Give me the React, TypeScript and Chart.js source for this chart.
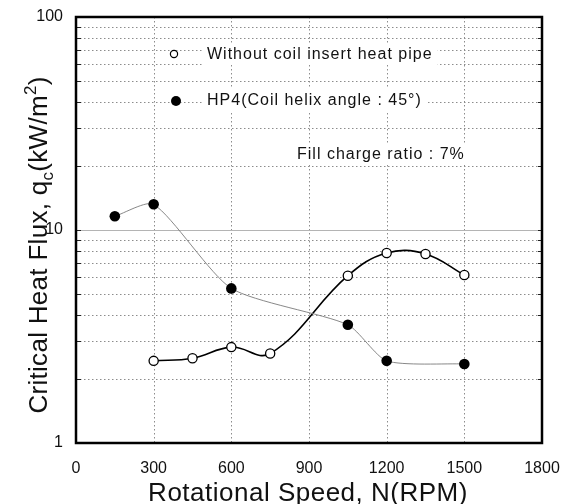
import React, { useEffect, useRef } from "react";
import { Chart, registerables } from "chart.js";

Chart.register(...registerables);

// ---- data ----
const openRpm = [300, 450, 600, 750, 1050, 1200, 1350, 1500];
const openFlux = [2.43, 2.5, 2.82, 2.63, 6.1, 7.8, 7.72, 6.15];
const filledRpm = [150, 300, 600, 1050, 1200, 1500];
const filledFlux = [11.6, 13.2, 5.32, 3.59, 2.43, 2.35];
const xTicks = [0, 300, 600, 900, 1200, 1500, 1800];
const yTicks = [1, 2, 3, 4, 5, 6, 7, 8, 9, 10, 20, 30, 40, 50, 60, 70, 80, 90, 100];
const yLabels = [1, 10, 100];
const seriesNames = ["Without coil insert heat pipe", "HP4(Coil helix angle : 45°)"];
const noteText = "Fill charge ratio : 7%";
const xTitle = "Rotational Speed, N(RPM)";

const FONT = "'Liberation Sans', Arial, Helvetica, sans-serif";

const decorPlugin = {
  id: "decor",
  beforeDatasetsDraw(chart: any) {
    const { ctx, chartArea: a, scales } = chart;
    const x = scales.x;
    const y = scales.y;
    const line = (x1: number, y1: number, x2: number, y2: number) => {
      ctx.beginPath();
      ctx.moveTo(x1, y1);
      ctx.lineTo(x2, y2);
      ctx.stroke();
    };
    ctx.save();
    ctx.lineWidth = 1;
    ctx.strokeStyle = "#8c8c8c";
    ctx.setLineDash([1.5, 2.5]);
    xTicks.forEach((v) => {
      if (v <= xTicks[0] || v >= xTicks[xTicks.length - 1]) return;
      const px = Math.round(x.getPixelForValue(v)) + 0.5;
      line(px, a.top, px, a.bottom);
    });
    yTicks.forEach((v) => {
      if (yLabels.includes(v)) return;
      const py = Math.round(y.getPixelForValue(v)) + 0.5;
      line(a.left, py, a.right, py);
    });
    ctx.setLineDash([]);
    // solid line at the middle decade
    ctx.strokeStyle = "#b4b4b4";
    ctx.lineWidth = 1.2;
    const p10 = Math.round(y.getPixelForValue(10)) + 0.5;
    line(a.left, p10, a.right, p10);
    // inward minor ticks
    ctx.strokeStyle = "#222";
    ctx.lineWidth = 1;
    yTicks.forEach((v) => {
      const py = Math.round(y.getPixelForValue(v)) + 0.5;
      line(a.left, py, a.left + 5, py);
      line(a.right - 4, py, a.right, py);
    });
    ctx.restore();
  },
  afterDatasetsDraw(chart: any) {
    const { ctx, chartArea: a } = chart;
    ctx.save();
    // frame
    ctx.strokeStyle = "#000";
    ctx.lineWidth = 2.5;
    ctx.strokeRect(a.left, a.top, a.right - a.left, a.bottom - a.top);

    // legend & note
    ctx.font = `16px ${FONT}`;
    (ctx as any).letterSpacing = "1px";
    ctx.textBaseline = "middle";
    ctx.textAlign = "left";
    const texts = [
      { t: seriesNames[0], x: 207, y: 54 },
      { t: seriesNames[1], x: 207, y: 100 },
      { t: noteText, x: 297, y: 154 },
    ];
    texts.forEach((o) => {
      const w = ctx.measureText(o.t).width;
      ctx.fillStyle = "#fff";
      ctx.fillRect(o.x - 5, o.y - 11, w + 10, 22);
      ctx.fillStyle = "#111";
      ctx.fillText(o.t, o.x, o.y + 1);
    });
    // legend markers
    ctx.beginPath();
    ctx.arc(174, 54, 3.6, 0, Math.PI * 2);
    ctx.fillStyle = "#fff";
    ctx.fill();
    ctx.lineWidth = 1.2;
    ctx.strokeStyle = "#000";
    ctx.stroke();
    ctx.beginPath();
    ctx.arc(176, 101, 5, 0, Math.PI * 2);
    ctx.fillStyle = "#000";
    ctx.fill();

    // x title
    ctx.font = `26px ${FONT}`;
    (ctx as any).letterSpacing = "0.5px";
    ctx.textAlign = "center";
    ctx.textBaseline = "alphabetic";
    ctx.fillStyle = "#111";
    ctx.fillText(xTitle, 308, 501);

    // y title with subscript / superscript
    (ctx as any).letterSpacing = "0.3px";
    const parts = [
      { t: "Critical Heat Flux, q", s: 26, dy: 0 },
      { t: "c", s: 17, dy: 6 },
      { t: "(kW/m", s: 26, dy: 0 },
      { t: "2", s: 17, dy: -11 },
      { t: ")", s: 26, dy: 0 },
    ];
    let total = 0;
    const widths = parts.map((p) => {
      ctx.font = `${p.s}px ${FONT}`;
      const w = ctx.measureText(p.t).width;
      total += w;
      return w;
    });
    ctx.translate(47, 245);
    ctx.rotate(-Math.PI / 2);
    ctx.textAlign = "left";
    let cx = -total / 2;
    parts.forEach((p, i) => {
      ctx.font = `${p.s}px ${FONT}`;
      ctx.fillText(p.t, cx, p.dy);
      cx += widths[i];
    });
    ctx.restore();
  },
};

export default function App() {
  const ref = useRef<HTMLCanvasElement | null>(null);

  useEffect(() => {
    if (!ref.current) return;
    const chart = new Chart(ref.current, {
      type: "line",
      data: {
        datasets: [
          {
            label: seriesNames[1],
            data: filledRpm.map((v, i) => ({ x: v, y: filledFlux[i] })),
            borderColor: "#7a7a7a",
            borderWidth: 0.9,
            pointBackgroundColor: "#000",
            pointBorderColor: "#000",
            pointBorderWidth: 0,
            pointRadius: 5.3,
            tension: 0.22,
            fill: false,
          },
          {
            label: seriesNames[0],
            data: openRpm.map((v, i) => ({ x: v, y: openFlux[i] })),
            borderColor: "#000",
            borderWidth: 1.6,
            pointBackgroundColor: "#fff",
            pointBorderColor: "#000",
            pointBorderWidth: 1.3,
            pointRadius: 4.6,
            tension: 0.4,
            fill: false,
          },
        ],
      },
      options: {
        responsive: false,
        animation: false,
        events: [],
        layout: { autoPadding: false, padding: { top: 17, right: 22, left: 0, bottom: 0 } },
        plugins: {
          legend: { display: false },
          tooltip: { enabled: false },
          title: { display: false },
        },
        scales: {
          x: {
            type: "linear",
            min: 0,
            max: 1800,
            afterBuildTicks: (s: any) => {
              s.ticks = xTicks.map((v) => ({ value: v }));
            },
            afterFit: (s: any) => {
              s.height = 61;
            },
            grid: { display: false, drawTicks: true, tickLength: 13 },
            border: { display: false },
            ticks: {
              autoSkip: false,
              maxRotation: 0,
              padding: 3,
              color: "#111",
              font: { family: FONT, size: 16 },
              callback: (v: any) => String(v),
            },
          },
          y: {
            type: "logarithmic",
            min: 1,
            max: 100,
            afterBuildTicks: (s: any) => {
              s.ticks = yTicks.map((v) => ({ value: v }));
            },
            afterFit: (s: any) => {
              s.width = 76;
            },
            grid: { display: false, drawTicks: true, tickLength: 12 },
            border: { display: false },
            ticks: {
              autoSkip: false,
              padding: 1,
              color: "#111",
              font: { family: FONT, size: 16 },
              callback: (v: any) => (yLabels.includes(Number(v)) ? String(v) : ""),
            },
          },
        },
      },
      plugins: [decorPlugin],
    } as any);
    return () => chart.destroy();
  }, []);

  return (
    <div style={{ position: "absolute", left: 0, top: 0, width: 564, height: 504, background: "#fff" }}>
      <canvas ref={ref} width={564} height={504} style={{ display: "block", width: 564, height: 504 }} />
    </div>
  );
}
